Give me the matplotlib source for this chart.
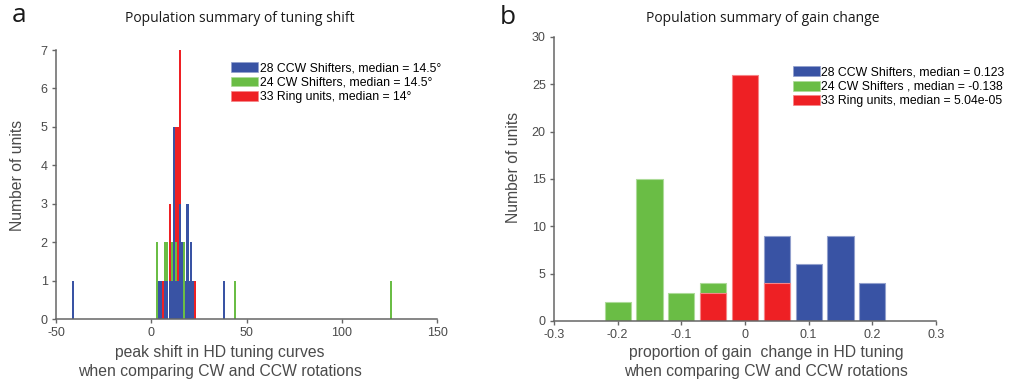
import numpy as np
import matplotlib
matplotlib.use('Agg')
import matplotlib.pyplot as plt
from matplotlib.patches import Patch

plt.rcParams['font.family'] = ['Liberation Sans', 'DejaVu Sans']
plt.rcParams['axes.unicode_minus'] = False

BLUE = '#3953a4'
GREEN = '#6abd45'
RED = '#ee2024'
GREY = '#4a4a4a'

# panel a: peak shift histogram (bin centre in degrees, count)
shift_bins_ccw = [-41, 4, 5, 7, 8, 10, 11, 12, 13, 14, 15, 16, 18, 19, 20, 21, 22, 38]
shift_counts_ccw = [1, 1, 1, 1, 1, 1, 1, 5, 1, 1, 3, 2, 1, 3, 1, 2, 1, 1]
shift_bins_cw = [3, 4, 5, 7, 8, 10, 11, 12, 13, 14, 15, 16, 17, 18, 19, 20, 44, 126]
shift_counts_cw = [2, 1, 1, 2, 2, 1, 2, 1, 2, 1, 1, 1, 2, 1, 1, 1, 1, 1]
shift_bins_ring = [6, 7, 8, 10, 11, 12, 13, 14, 15, 16, 18, 19, 23]
shift_counts_ring = [1, 1, 1, 3, 1, 5, 5, 5, 7, 1, 1, 1, 1]

# panel b: gain change histogram
gain_centers = [-0.2, -0.15, -0.1, -0.05, 0, 0.05, 0.1, 0.15, 0.2]
gain_ccw = [0, 0, 0, 0, 0, 9, 6, 9, 4]
gain_cw = [2, 15, 3, 4, 0, 0, 0, 0, 0]
gain_ring = [0, 0, 0, 3, 26, 4, 0, 0, 0]

labels_a = ['28 CCW Shifters, median = 14.5°', '24 CW Shifters, median = 14.5°',
            '33 Ring units, median = 14°']
labels_b = ['28 CCW Shifters, median = 0.123', '24 CW Shifters , median = -0.138',
            '33 Ring units, median = 5.04e-05']


def style_axes(ax):
    for s in ['top', 'right']:
        ax.spines[s].set_visible(False)
    for s in ['left', 'bottom']:
        ax.spines[s].set_color('#666666')
        ax.spines[s].set_linewidth(1.1)
    ax.tick_params(direction='out', length=3, width=1, colors='#666666',
                   labelcolor=GREY, labelsize=9, pad=3)


def light(c, f=0.45):
    rgb = np.array(matplotlib.colors.to_rgb(c))
    return tuple(rgb + (1 - rgb) * f)


fig = plt.figure(figsize=(10.11, 3.83), dpi=100)
ax1 = fig.add_axes([0.0554, 0.1671, 0.3769, 0.7023])
ax2 = fig.add_axes([0.548, 0.1619, 0.3778, 0.7415])

# panel a, ring first, blue on top
for bins, counts, c in [(shift_bins_ring, shift_counts_ring, RED),
                        (shift_bins_cw, shift_counts_cw, GREEN),
                        (shift_bins_ccw, shift_counts_ccw, BLUE)]:
    ax1.bar(bins, counts, width=1.1, color=c, linewidth=0)
ax1.set_xlim(-50, 150)
ax1.set_ylim(0, 7)
ax1.set_xticks([-50, 0, 50, 100, 150])
ax1.set_yticks(range(8))
style_axes(ax1)
ax1.legend([Patch(facecolor=c, edgecolor=light(c), linewidth=0.5) for c in [BLUE, GREEN, RED]],
           labels_a, loc='upper left', bbox_to_anchor=(0.46, 0.955), frameon=False,
           fontsize=8.8, handlelength=2.2, handleheight=0.85, handletextpad=0.15,
           labelspacing=0.2, borderaxespad=0, borderpad=0)

# panel b, red on top
for counts, c in [(gain_ccw, BLUE), (gain_cw, GREEN), (gain_ring, RED)]:
    ax2.bar(gain_centers, counts, width=0.041, color=c, edgecolor=light(c), linewidth=0.8)
ax2.set_xlim(-0.3, 0.3)
ax2.set_ylim(0, 30)
ax2.set_xticks(np.round(np.arange(-0.3, 0.31, 0.1), 1))
ax2.set_xticklabels(['-0.3', '-0.2', '-0.1', '0', '0.1', '0.2', '0.3'])
ax2.set_yticks(range(0, 31, 5))
style_axes(ax2)
ax2.legend([Patch(facecolor=c, edgecolor=light(c), linewidth=0.5) for c in [BLUE, GREEN, RED]],
           labels_b, loc='upper left', bbox_to_anchor=(0.625, 0.897), frameon=False,
           fontsize=8.8, handlelength=2.2, handleheight=0.85, handletextpad=0.15,
           labelspacing=0.2, borderaxespad=0, borderpad=0)

W, H = 1011, 383
def ftext(x, y, s, **kw):
    fig.text(x / W, 1 - y / H, s, **kw)

title_font = ['Open Sans', 'DejaVu Sans']
ftext(19, 16, 'a', fontsize=19, family=title_font, va='center', ha='center', color='#1a1a1a')
ftext(508, 17, 'b', fontsize=19, family=title_font, va='center', ha='center', color='#1a1a1a')
ftext(240, 19, 'Population summary of tuning shift', fontsize=10, family=title_font,
      ha='center', va='center', color='#1a1a1a')
ftext(763, 19, 'Population summary of gain change', fontsize=10, family=title_font,
      ha='center', va='center', color='#1a1a1a')

ftext(220, 362, 'peak shift in HD tuning curves\nwhen comparing CW and CCW rotations',
      fontsize=11.3, ha='center', va='center', color=GREY, linespacing=1.3)
ftext(766, 362, 'proportion of gain  change in HD tuning\nwhen comparing CW and CCW rotations',
      fontsize=11.3, ha='center', va='center', color=GREY, linespacing=1.3)
ftext(18, 175, 'Number of units', fontsize=11.3, rotation=90, ha='center', va='center', color=GREY)
ftext(513, 167, 'Number of units', fontsize=11.3, rotation=90, ha='center', va='center', color=GREY)

fig.savefig('out.png', dpi=100)
